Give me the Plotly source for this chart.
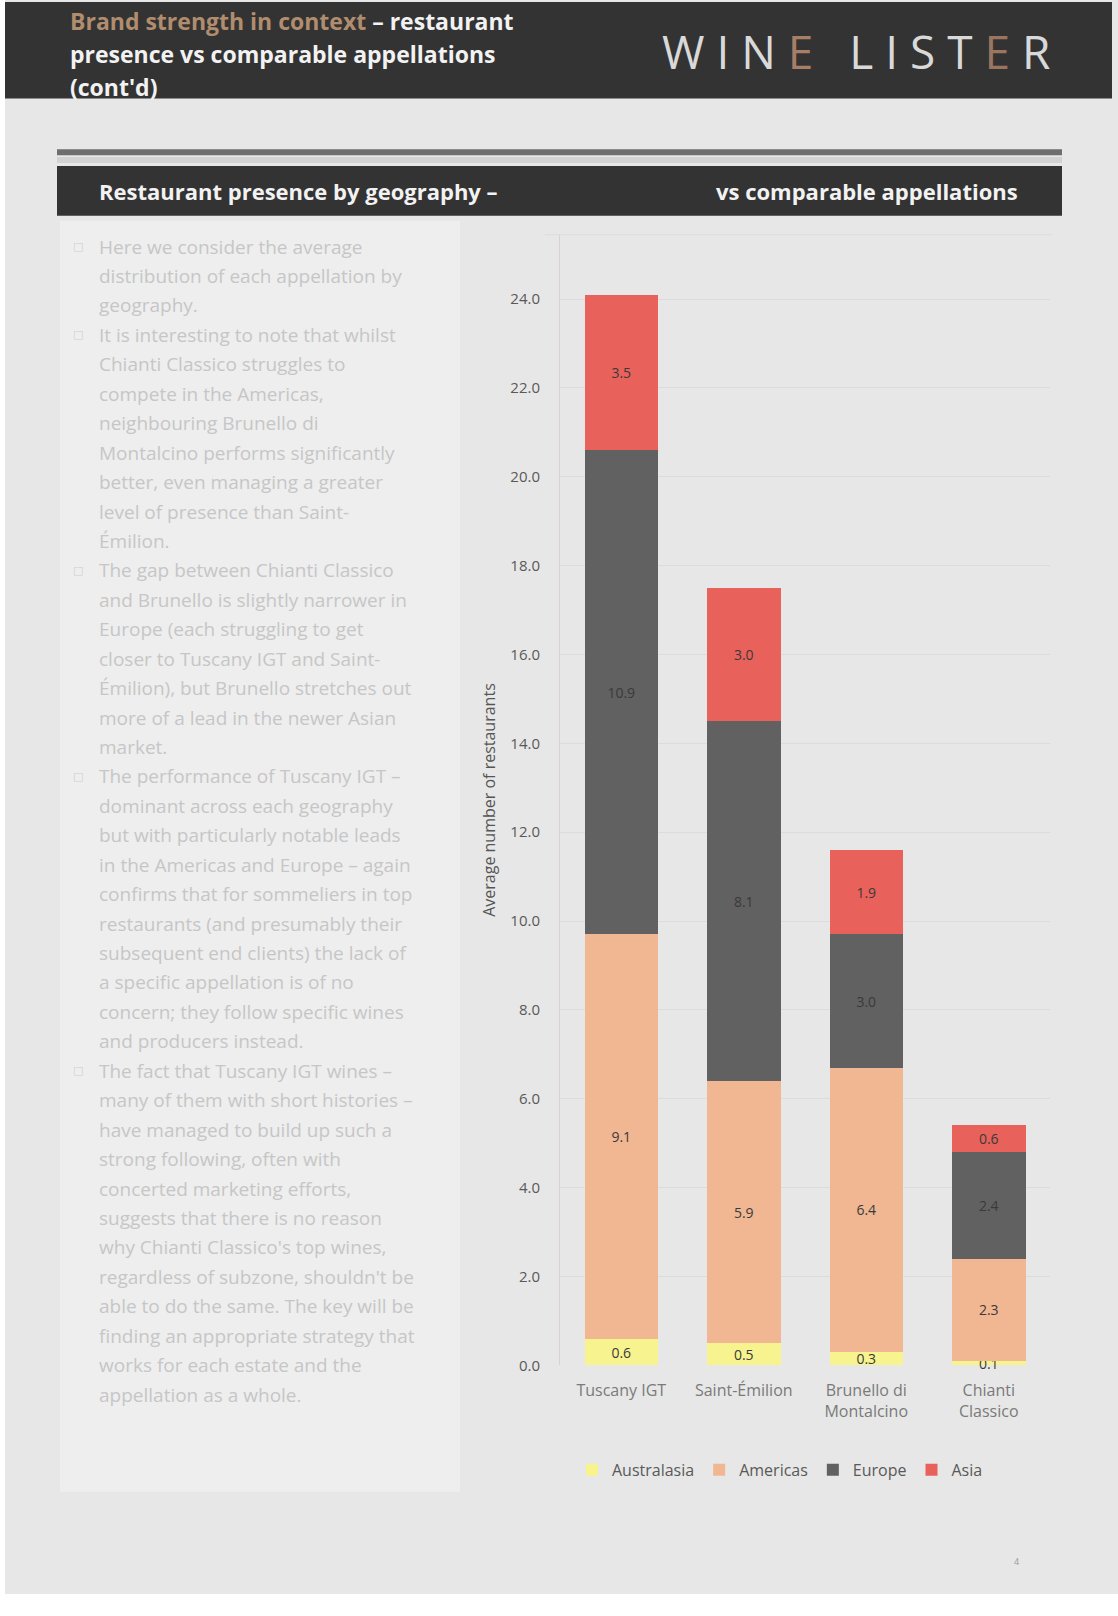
import plotly.graph_objects as go

# ---------------- data ----------------
categories = ["Tuscany IGT", "Saint-Émilion", "Brunello di Montalcino", "Chianti Classico"]
tick_labels = ["Tuscany IGT", "Saint-Émilion", "Brunello di<br>Montalcino", "Chianti<br>Classico"]
australasia = [0.6, 0.5, 0.3, 0.1]
americas = [9.1, 5.9, 6.4, 2.3]
europe = [10.9, 8.1, 3.0, 2.4]
asia = [3.5, 3.0, 1.9, 0.6]
y_ticks = [0, 2, 4, 6, 8, 10, 12, 14, 16, 18, 20, 22, 24]

series_names = ["Australasia", "Americas", "Europe", "Asia"]
series_values = [australasia, americas, europe, asia]
series_colors = ["#F7F38E", "#F0B792", "#616161", "#E8615B"]

W, H = 1118, 1616
def px(x):
    return x / W
def py(y):
    return 1 - y / H

fig = go.Figure()
for name, vals, col in zip(series_names, series_values, series_colors):
    fig.add_trace(go.Bar(
        x=categories, y=vals, name=name, marker=dict(color=col, line=dict(width=0)),
        width=0.6, texttemplate="%{y:.1f}", textposition="inside",
        insidetextanchor="middle", textangle=0, cliponaxis=False,
        textfont=dict(size=14, color="#3a3a3a", family="Open Sans"),
        hoverinfo="skip",
    ))

shapes = []
# page background
shapes.append(dict(type="rect", xref="paper", yref="paper", x0=px(5), x1=px(1118),
                   y0=py(1603), y1=py(0), fillcolor="#e7e7e7", line=dict(width=0), layer="below"))
# header band
shapes.append(dict(type="rect", xref="paper", yref="paper", x0=px(5), x1=px(1112),
                   y0=py(99), y1=py(2), fillcolor="#333333", line=dict(width=0), layer="below"))
# double rule above subheader
shapes.append(dict(type="rect", xref="paper", yref="paper", x0=px(57), x1=px(1062),
                   y0=py(156), y1=py(150), fillcolor="#6e6e6e", line=dict(width=0), layer="below"))
shapes.append(dict(type="rect", xref="paper", yref="paper", x0=px(57), x1=px(1062),
                   y0=py(164), y1=py(158), fillcolor="#d2d2d2", line=dict(width=0), layer="below"))
# subheader dark bar
shapes.append(dict(type="rect", xref="paper", yref="paper", x0=px(57), x1=px(1062),
                   y0=py(217), y1=py(167), fillcolor="#333333", line=dict(width=0), layer="below"))
# left text panel
shapes.append(dict(type="rect", xref="paper", yref="paper", x0=px(60), x1=px(460),
                   y0=py(1500), y1=py(222), fillcolor="#eeeeee", line=dict(width=0), layer="below"))
# plot top border
shapes.append(dict(type="line", xref="paper", yref="paper", x0=px(545), x1=px(1052),
                   y0=py(236), y1=py(236), line=dict(color="#dddddd", width=1), layer="below"))

annotations = []
# header title
title_lines = [
    "<span style='color:#b08d6e'>Brand strength in context</span> – restaurant",
    "presence vs comparable appellations",
    "(cont'd)",
]
for i, t in enumerate(title_lines):
    annotations.append(dict(xref="paper", yref="paper", x=px(68), y=py(21 + 33 * i),
                            xanchor="left", yanchor="middle", showarrow=False, text="<b>" + t + "</b>",
                            font=dict(size=23, color="#f2f2f2", family="Open Sans")))
# logo
logo = ("W I N <span style='color:#a77f66'>E</span>   L I S T "
        "<span style='color:#9a7560'>E</span> R")
annotations.append(dict(xref="paper", yref="paper", x=px(1052), y=py(51), xanchor="right",
                        yanchor="middle", showarrow=False, text=logo,
                        font=dict(size=46, color="#d9d9d9", family="Open Sans")))
# subheader
annotations.append(dict(xref="paper", yref="paper", x=px(97), y=py(192), xanchor="left",
                        yanchor="middle", showarrow=False,
                        text="<b>Restaurant presence by geography –</b>",
                        font=dict(size=22, color="#f2f2f2", family="Open Sans")))
annotations.append(dict(xref="paper", yref="paper", x=px(1020), y=py(192), xanchor="right",
                        yanchor="middle", showarrow=False,
                        text="<b>vs comparable appellations</b>",
                        font=dict(size=22, color="#f2f2f2", family="Open Sans")))

# commentary text
bullets = [
    ["Here we consider the average",
     "distribution of each appellation by",
     "geography."],
    ["It is interesting to note that whilst",
     "Chianti Classico struggles to",
     "compete in the Americas,",
     "neighbouring Brunello di",
     "Montalcino performs significantly",
     "better, even managing a greater",
     "level of presence than Saint-",
     "Émilion."],
    ["The gap between Chianti Classico",
     "and Brunello is slightly narrower in",
     "Europe (each struggling to get",
     "closer to Tuscany IGT and Saint-",
     "Émilion), but Brunello stretches out",
     "more of a lead in the newer Asian",
     "market."],
    ["The performance of Tuscany IGT –",
     "dominant across each geography",
     "but with particularly notable leads",
     "in the Americas and Europe – again",
     "confirms that for sommeliers in top",
     "restaurants (and presumably their",
     "subsequent end clients) the lack of",
     "a specific appellation is of no",
     "concern; they follow specific wines",
     "and producers instead."],
    ["The fact that Tuscany IGT wines –",
     "many of them with short histories –",
     "have managed to build up such a",
     "strong following, often with",
     "concerted marketing efforts,",
     "suggests that there is no reason",
     "why Chianti Classico's top wines,",
     "regardless of subzone, shouldn't be",
     "able to do the same. The key will be",
     "finding an appropriate strategy that",
     "works for each estate and the",
     "appellation as a whole."],
]
line_y = 248
step = 29.6
for b in bullets:
    annotations.append(dict(xref="paper", yref="paper", x=px(78), y=py(line_y), xanchor="center",
                            yanchor="middle", showarrow=False, text="□",
                            font=dict(size=11, color="#cfcfcf", family="DejaVu Sans")))
    for ln in b:
        annotations.append(dict(xref="paper", yref="paper", x=px(97), y=py(line_y), xanchor="left",
                                yanchor="middle", showarrow=False, text=ln,
                                font=dict(size=19, color="#c6c6c6", family="Open Sans")))
        line_y += step

# page number
annotations.append(dict(xref="paper", yref="paper", x=px(1016), y=py(1570), xanchor="center",
                        yanchor="middle", showarrow=False, text="4",
                        font=dict(size=9, color="#9a9a9a", family="Open Sans")))

fig.update_layout(
    width=W, height=H, margin=dict(l=0, r=0, t=0, b=0),
    paper_bgcolor="#ffffff", plot_bgcolor="rgba(0,0,0,0)",
    barmode="stack",
    font=dict(family="Open Sans", color="#595959"),
    uniformtext=dict(minsize=14, mode="show"),
    shapes=shapes, annotations=annotations,
    showlegend=True,
    legend=dict(orientation="h", x=px(780), xanchor="center", y=py(1478), yanchor="middle",
                traceorder="normal", font=dict(size=16, color="#595959"),
                itemwidth=30, bgcolor="rgba(0,0,0,0)"),
    xaxis=dict(domain=[px(560), px(1050)], tickvals=categories, ticktext=tick_labels,
               tickfont=dict(size=16, color="#7a7a7a"), showgrid=False, showline=False,
               ticks="", ticklabelstandoff=14, fixedrange=True),
    yaxis=dict(domain=[py(1373), py(236)], range=[0, 25.45], tickvals=y_ticks,
               tickformat=".1f", tickfont=dict(size=15, color="#595959"),
               showgrid=True, gridcolor="#dcdcdc", gridwidth=1,
               showline=True, linecolor="#d9d2d2", linewidth=1,
               zeroline=False, ticks="", ticklabelstandoff=16,
               title=dict(text="Average number of restaurants", standoff=10,
                          font=dict(size=16, color="#555555"))),
)

fig.write_html("out.html")
